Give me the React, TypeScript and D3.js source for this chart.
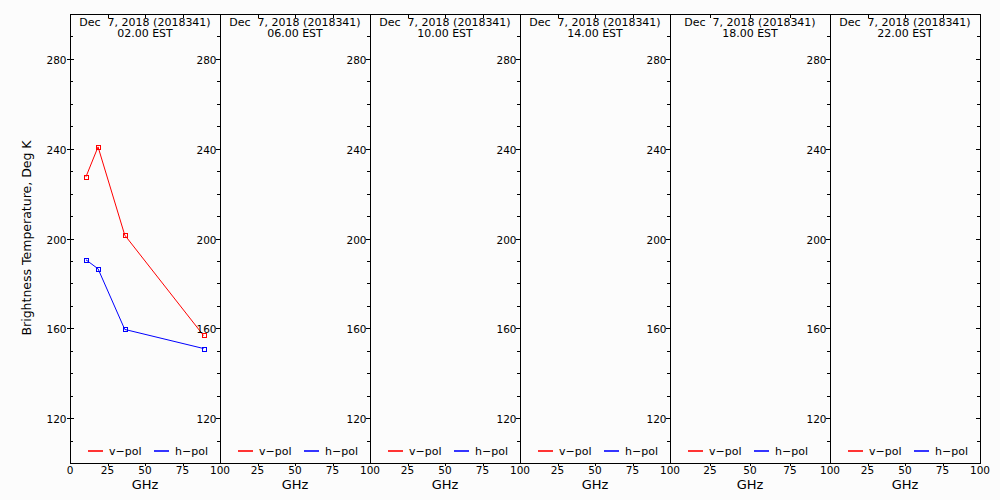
import React, { useEffect, useRef } from 'react';
import * as d3 from 'd3';

// frequencies (GHz) and brightness temps for the first time slot
const freqs = [10.65, 18.7, 36.5, 89.0];
const vpol = [227.5, 240.8, 201.5, 156.8];
const hpol = [190.5, 186.5, 159.5, 151.0];

const dateLabel = 'Dec  7, 2018 (2018341)';
const hours = ['02.00', '06.00', '10.00', '14.00', '18.00', '22.00'];
const xTicks = [0, 25, 50, 75, 100];
const yMajor = [120, 160, 200, 240, 280];
const legendNames = ['v-pol', 'h-pol'];
const legendColors = ['#ff0000', '#0000ff'];

const edges = [70, 220, 370, 520, 670, 830, 980];
const top = 14;
const bottom = 463;
const font = "'DejaVu Sans', sans-serif";

function App() {
  const svgRef = useRef(null);

  useEffect(() => {
    const svg = d3.select(svgRef.current);
    svg.selectAll('*').remove();

    svg.append('rect').attr('width', 1000).attr('height', 500).attr('fill', '#fcfcfc');

    const y = d3.scaleLinear().domain([100, 300]).range([bottom, top]);
    const yMinor = d3.range(100, 301, 10).filter(v => v % 40 !== 0);

    hours.forEach((hr, i) => {
      const x0 = edges[i];
      const x1 = edges[i + 1];
      const x = d3.scaleLinear().domain([0, 100]).range([x0, x1]);
      const g = svg.append('g');
      const cx = (x0 + x1) / 2;

      // frame
      g.append('rect')
        .attr('x', x0 + 0.5).attr('y', top + 0.5)
        .attr('width', x1 - x0).attr('height', bottom - top)
        .attr('fill', 'none').attr('stroke', '#000')
        .attr('shape-rendering', 'crispEdges');

      // y ticks on both sides of panel
      const tk = g.append('g').attr('stroke', '#000').attr('shape-rendering', 'crispEdges');
      yMinor.forEach(v => {
        const yy = Math.round(y(v)) + 0.5;
        if (i === 0) tk.append('line').attr('x1', x0).attr('x2', x0 + 3).attr('y1', yy).attr('y2', yy);
        tk.append('line').attr('x1', x1 - 3).attr('x2', x1).attr('y1', yy).attr('y2', yy);
      });
      yMajor.forEach(v => {
        const yy = Math.round(y(v)) + 0.5;
        tk.append('line').attr('x1', x0 - 3).attr('x2', x0 + (i === 0 ? 4 : 0)).attr('y1', yy).attr('y2', yy);
        tk.append('line').attr('x1', x1 - 4).attr('x2', x1).attr('y1', yy).attr('y2', yy);
        g.append('text')
          .attr('x', x0 - 3.5).attr('y', yy + 4)
          .attr('text-anchor', 'end')
          .attr('font-family', font).attr('font-size', 10.5)
          .text(v);
      });

      // x ticks
      xTicks.slice(1, -1).forEach(t => {
        const xx = Math.round(x(t)) + 0.5;
        tk.append('line').attr('x1', xx).attr('x2', xx).attr('y1', top).attr('y2', top + 4);
        tk.append('line').attr('x1', xx).attr('x2', xx).attr('y1', bottom).attr('y2', bottom + 3);
      });
      xTicks.forEach(t => {
        if (i > 0 && t === 0) return;
        g.append('text')
          .attr('x', x(t)).attr('y', 474)
          .attr('text-anchor', 'middle')
          .attr('font-family', font).attr('font-size', 10.5)
          .text(t);
      });
      g.append('text')
        .attr('x', cx).attr('y', 489)
        .attr('text-anchor', 'middle')
        .attr('font-family', font).attr('font-size', 13)
        .text('GHz');

      // header
      g.append('text')
        .attr('x', cx).attr('y', 26)
        .attr('text-anchor', 'middle')
        .attr('font-family', font).attr('font-size', 11)
        .style('white-space', 'pre')
        .text(dateLabel);
      g.append('text')
        .attr('x', cx).attr('y', 37)
        .attr('text-anchor', 'middle')
        .attr('font-family', font).attr('font-size', 11)
        .text(hr + ' EST');

      // legend
      legendNames.forEach((lab, k) => {
        const off = k === 0 ? 18 : 84;
        g.append('path')
          .attr('d', d3.line()([[x0 + off, 451], [x0 + off + 15, 451]]))
          .attr('fill', 'none')
          .attr('stroke', legendColors[k])
          .attr('stroke-width', 1.6);
        g.append('text')
          .attr('x', x0 + off + 21).attr('y', 455)
          .attr('font-family', font).attr('font-size', 11)
          .text(lab.replace('-', '\u2212'));
      });

      // data only in the first slot
      if (i === 0) {
        [vpol, hpol].forEach((vals, k) => {
          const col = legendColors[k];
          const pts = vals.map((v, j) => [x(freqs[j]), y(v)]);
          g.append('path')
            .attr('d', d3.line()(pts))
            .attr('fill', 'none').attr('stroke', col).attr('stroke-width', 1);
          g.selectAll(null).data(pts).enter().append('rect')
            .attr('x', d => Math.round(d[0]) - 2 + 0.5)
            .attr('y', d => Math.round(d[1]) - 2 + 0.5)
            .attr('width', 4).attr('height', 4)
            .attr('fill', 'none').attr('stroke', col)
            .attr('shape-rendering', 'crispEdges');
        });
      }
    });

    svg.append('text')
      .attr('transform', 'translate(31,238) rotate(-90)')
      .attr('text-anchor', 'middle')
      .attr('font-family', font).attr('font-size', 12.5)
      .text('Brightness Temperature, Deg K');
  }, []);

  return (
    <svg ref={svgRef} width={1000} height={500}
      style={{ position: 'absolute', left: 0, top: 0, display: 'block' }}></svg>
  );
}

export default App;
